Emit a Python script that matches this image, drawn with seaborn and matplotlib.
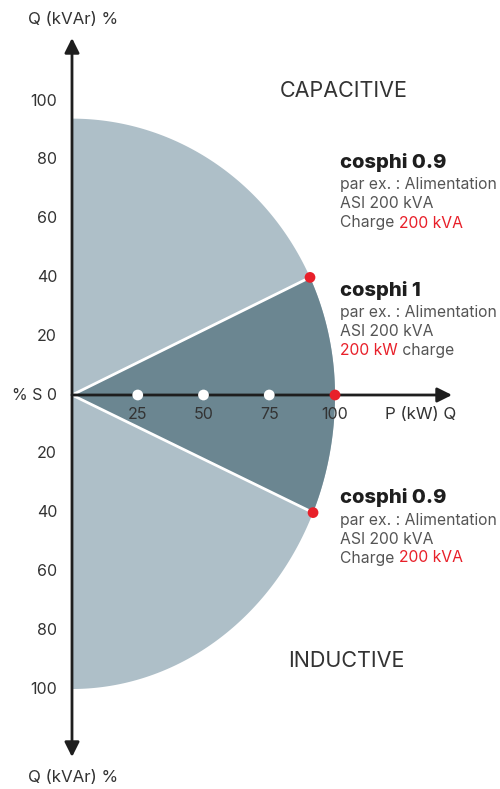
import numpy as np
import pandas as pd
import matplotlib
matplotlib.use("Agg")
import matplotlib.pyplot as plt
import seaborn as sns

# --- data ---
p_ticks = [25, 50, 75]
p_tick_labels = ["25", "50", "75", "100"]
p_tick_values = [25, 50, 75, 100]
q_tick_values = [100, 80, 60, 40, 20, 0, -20, -40, -60, -80, -100]
q_tick_labels = ["100", "80", "60", "40", "20", "% S 0", "20", "40", "60", "80", "100"]
p_max = 100          # semi-axis along P
q_top = 94           # upper semi-axis (capacitive)
q_bottom = 100       # lower semi-axis (inductive)
cosphi_q = [40, 0, -40]   # Q of the red points (cosphi 0.9, 1, 0.9)

LIGHT = "#aebfc8"
DARK = "#6b8691"
RED = "#e8202a"
INK = "#1e1e1e"
GREY = "#555555"

sns.set_theme(style="white")
plt.rcParams["font.family"] = ["Inter", "DejaVu Sans"]

W, H = 500, 789
sx, sy = 2.63, 2.94      # px per unit
ox, oy = 72, 395         # origin in px

fig = plt.figure(figsize=(W / 100, H / 100), dpi=100)
ax = fig.add_axes([0, 0, 1, 1])
ax.set_xlim(-ox / sx, (W - ox) / sx)
ax.set_ylim(-(H - oy) / sy, oy / sy)
ax.axis("off")


def px(x, y):
    return x / W, 1 - y / H


# half ellipse (light)
t = np.linspace(0, np.pi / 2, 200)
up_p, up_q = p_max * np.cos(t), q_top * np.sin(t)
lo_p, lo_q = p_max * np.cos(t), -q_bottom * np.sin(t)
ax.fill(np.concatenate([[0], up_p[::-1][1:], lo_p]),
        np.concatenate([[q_top], up_q[::-1][1:], lo_q]), color=LIGHT, lw=0, zorder=1)

# dark wedge between the cosphi 0.9 points
tu = np.arcsin(cosphi_q[0] / q_top)
tl = np.arcsin(-cosphi_q[2] / q_bottom)
a1 = np.linspace(tu, 0, 100)
a2 = np.linspace(0, tl, 100)
wedge_p = np.concatenate([[0], p_max * np.cos(a1), p_max * np.cos(a2), [0]])
wedge_q = np.concatenate([[0], q_top * np.sin(a1), -q_bottom * np.sin(a2), [0]])
ax.fill(wedge_p, wedge_q, color=DARK, lw=0, zorder=2)

red_p = [p_max * np.cos(tu), p_max, p_max * np.cos(tl)]
for rp, rq in [(red_p[0], cosphi_q[0]), (red_p[2], cosphi_q[2])]:
    ax.plot([0, rp], [0, rq], color="white", lw=2, zorder=3, solid_capstyle="round")

# axes arrows
ax.annotate("", xy=(0, (oy - 38) / sy), xytext=(0, -(757 - oy) / sy),
            arrowprops=dict(arrowstyle="<|-|>", color=INK, lw=2,
                            mutation_scale=22, shrinkA=0, shrinkB=0), zorder=4)
ax.annotate("", xy=((452 - ox) / sx, 0), xytext=(0, 0),
            arrowprops=dict(arrowstyle="-|>", color=INK, lw=2,
                            mutation_scale=22, shrinkA=0, shrinkB=0), zorder=4)

# points on the P axis
dots = pd.DataFrame({"P": p_ticks, "Q": [0] * len(p_ticks)})
sns.scatterplot(data=dots, x="P", y="Q", color="white", s=60, edgecolor="none",
                ax=ax, zorder=5, legend=False)
reds = pd.DataFrame({"P": red_p, "Q": cosphi_q})
sns.scatterplot(data=reds, x="P", y="Q", color=RED, s=60, edgecolor="none",
                ax=ax, zorder=6, legend=False)

# tick labels
for v, lab in zip(p_tick_values, p_tick_labels):
    ax.text(v, -19 / sy, lab, ha="center", va="center", fontsize=11.5, color="#333333")
for v, lab in zip(q_tick_values, q_tick_labels):
    ax.text(-15 / sx, v, lab, ha="right", va="center", fontsize=11.5, color="#333333")

# axis titles
ax.text(*px(28, 20), "Q (kVAr) %", transform=ax.transAxes, ha="left", va="center",
        fontsize=12.2, color="#333333")
ax.text(*px(28, 777), "Q (kVAr) %", transform=ax.transAxes, ha="left", va="center",
        fontsize=12.2, color="#333333")
ax.text(*px(385, 414), "P (kW) Q", transform=ax.transAxes, ha="left", va="center",
        fontsize=12.2, color="#333333")

ax.text(*px(343.5, 91), "CAPACITIVE", transform=ax.transAxes, ha="center", va="center",
        fontsize=15.5, color="#333333")
ax.text(*px(346, 661), "INDUCTIVE", transform=ax.transAxes, ha="center", va="center",
        fontsize=15.5, color="#333333")


def block(y0, title, line3_parts):
    ax.text(*px(340, y0), title, transform=ax.transAxes, ha="left", va="center",
            fontsize=14.5, fontweight="heavy", color=INK)
    ax.text(*px(340, y0 + 22), "par ex. : Alimentation", transform=ax.transAxes,
            ha="left", va="center", fontsize=11.3, color=GREY)
    ax.text(*px(340, y0 + 41), "ASI 200 kVA", transform=ax.transAxes,
            ha="left", va="center", fontsize=11.3, color=GREY)
    prev = ax.text(*px(340, y0 + 60), line3_parts[0][0], transform=ax.transAxes,
                   ha="left", va="center", fontsize=11.3, color=line3_parts[0][1])
    for txt, col in line3_parts[1:]:
        prev = ax.annotate(txt, xy=(1, 0), xycoords=prev, ha="left", va="bottom",
                           fontsize=11.3, color=col)


block(163, "cosphi 0.9", [("Charge ", GREY), ("200 kVA", RED)])
block(291, "cosphi 1", [("200 kW", RED), (" charge", GREY)])
block(498, "cosphi 0.9", [("Charge ", GREY), ("200 kVA", RED)])

fig.savefig("out.png", dpi=100)
